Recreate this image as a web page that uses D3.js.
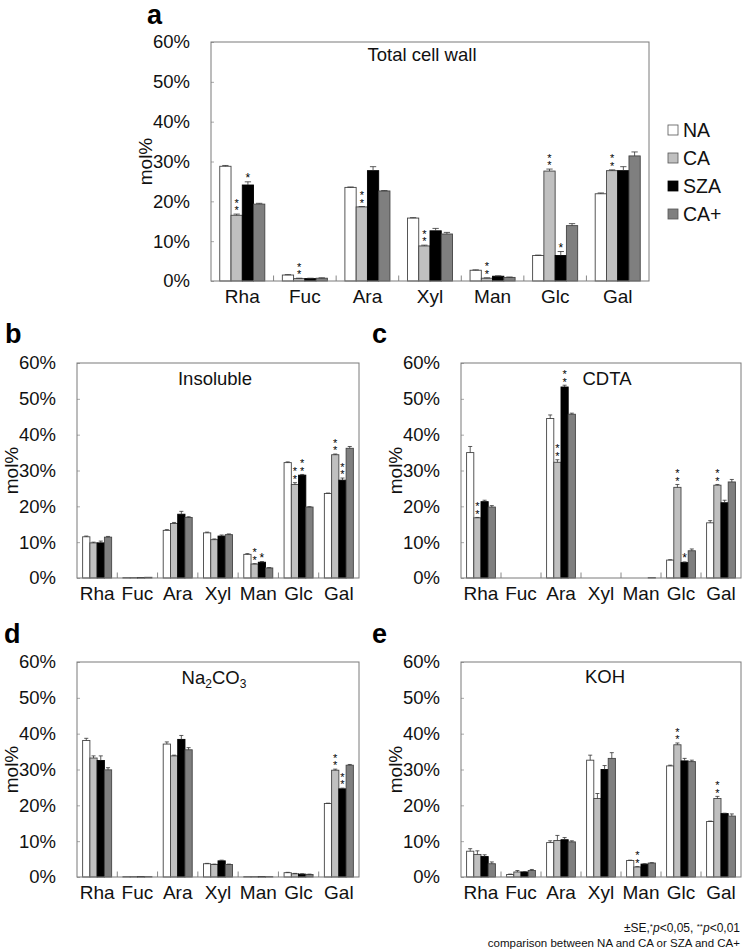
<!DOCTYPE html>
<html><head><meta charset="utf-8">
<script src="https://cdn.jsdelivr.net/npm/d3@7"></script>
<style>body{margin:0;background:#fff}svg{display:block;font-family:"Liberation Sans",Arial,sans-serif}
.vstar{writing-mode:vertical-rl;text-orientation:upright;}</style>
</head><body><svg id="chart" width="745" height="952"></svg>
<script>
// ---------- data ----------
const categories = ["Rha","Fuc","Ara","Xyl","Man","Glc","Gal"];
const seriesNames = ["NA","CA","SZA","CA+"];
const yTickValues = [0,10,20,30,40,50,60];
const yTickLabels = ["0%","10%","20%","30%","40%","50%","60%"];

// a: Total cell wall  (rows: NA, CA, SZA, CA+)
const totalValues = [
  [28.8, 1.5, 23.5, 15.8, 2.7, 6.4, 21.9],
  [16.5, 0.6, 18.6, 8.8, 0.7, 27.6, 27.7],
  [24.1, 0.6, 27.7, 12.6, 1.2, 6.4, 27.7],
  [19.3, 0.7, 22.6, 11.8, 0.9, 13.9, 31.4]];
const totalErrors = [
  [0.2, 0.1, 0.1, 0.1, 0.1, 0.1, 0.2],
  [0.3, 0.1, 0.1, 0.2, 0.1, 0.5, 0.2],
  [0.8, 0.1, 1.0, 0.6, 0.1, 1.0, 1.0],
  [0.2, 0.1, 0.1, 0.4, 0.1, 0.5, 1.0]];
const totalStars = [
  ["","","","","","",""],
  ["**","**","**","**","**","**","**"],
  ["*","","","","","*",""],
  ["","","","","","",""]];

// b: Insoluble
const insolValues = [
  [11.5, 0.1, 13.3, 12.6, 6.6, 32.2, 23.6],
  [9.8, 0.1, 15.2, 10.7, 3.9, 26.1, 34.4],
  [9.8, 0.1, 17.8, 11.7, 4.4, 28.7, 27.3],
  [11.4, 0.2, 16.9, 12.1, 2.8, 19.8, 36.2]];
const insolErrors = [
  [0.2, 0, 0.2, 0.2, 0.2, 0.2, 0.1],
  [0.2, 0, 0.3, 0.2, 0.1, 0.5, 0.2],
  [0.5, 0, 0.8, 0.3, 0.2, 0.2, 0.6],
  [0.2, 0, 0.2, 0.2, 0.1, 0.1, 0.5]];
const insolStars = [
  ["","","","","","",""],
  ["","","","","**","**","**"],
  ["","","","","*","**","**"],
  ["","","","","","",""]];

// c: CDTA
const cdtaValues = [
  [35.0, 0, 44.5, 0, 0, 5.0, 15.4],
  [16.8, 0, 32.3, 0, 0, 25.3, 25.9],
  [21.3, 0, 53.3, 0, 0, 4.3, 21.0],
  [19.8, 0, 45.7, 0, 0.1, 7.6, 26.8]];
const cdtaErrors = [
  [1.7, 0, 1.0, 0, 0, 0.1, 0.6],
  [0.1, 0, 0.7, 0, 0, 0.8, 0.2],
  [0.4, 0, 0.5, 0, 0, 0.2, 0.7],
  [0.4, 0, 0.3, 0, 0, 0.5, 0.7]];
const cdtaStars = [
  ["","","","","","",""],
  ["**","","**","","","**","**"],
  ["","","**","","","*",""],
  ["","","","","","",""]];

// d: Na2CO3
const naValues = [
  [38.1, 0.1, 37.1, 3.7, 0.1, 1.2, 20.5],
  [33.2, 0.1, 33.8, 3.5, 0.1, 0.9, 29.8],
  [32.5, 0.1, 38.4, 4.5, 0.1, 0.8, 24.6],
  [29.9, 0.1, 35.5, 3.5, 0.1, 0.7, 31.2]];
const naErrors = [
  [0.6, 0, 0.6, 0.1, 0, 0.1, 0.1],
  [0.6, 0, 0.2, 0.1, 0, 0.1, 0.3],
  [1.3, 0, 1.1, 0.2, 0, 0.1, 0.2],
  [0.6, 0, 0.6, 0.1, 0, 0.1, 0.2]];
const naStars = [
  ["","","","","","",""],
  ["","","","","","","**"],
  ["","","","","","","**"],
  ["","","","","","",""]];

// e: KOH
const kohValues = [
  [7.2, 0.7, 9.6, 32.6, 4.6, 31.0, 15.5],
  [6.3, 1.4, 10.2, 21.9, 2.8, 36.9, 21.9],
  [5.7, 1.4, 10.4, 30.0, 3.6, 32.4, 17.7],
  [3.7, 1.8, 9.8, 33.1, 3.9, 32.2, 17.0]];
const kohErrors = [
  [0.7, 0.1, 0.5, 1.4, 0.1, 0.2, 0.1],
  [1.0, 0.4, 1.4, 1.4, 0.1, 0.5, 0.6],
  [0.5, 0.1, 0.6, 1.1, 0.1, 0.7, 0.1],
  [0.5, 0.3, 0.3, 1.6, 0.1, 0.4, 0.6]];
const kohStars = [
  ["","","","","","",""],
  ["","","","","**","**","**"],
  ["","","","","","",""],
  ["","","","","","",""]];

// ---------- styles ----------
const seriesColors = ["#ffffff","#c0c0c0","#000000","#7f7f7f"];
const boxColor = "#7a7a7a";
const FONT = '"Liberation Sans",Arial,sans-serif';

const svg = d3.select("#chart");

function drawPanel(p) {
  const g = svg.append("g");
  const x = d3.scaleBand().domain(categories).range([p.x0, p.x1]);
  const bw = x.bandwidth();
  const xs = d3.scaleBand().domain(seriesNames).range([bw*0.14, bw*0.86]);
  const y = d3.scaleLinear().domain([0, 60]).range([p.y1, p.y0]);

  // y axis labels + inward ticks
  const yAxis = d3.axisLeft(y).tickValues(yTickValues)
    .tickFormat((d,i) => yTickLabels[i]).tickSize(-3).tickPadding(21);
  const ya = g.append("g").attr("transform", `translate(${p.x0},0)`).call(yAxis);
  ya.select(".domain").remove();
  ya.selectAll("line").attr("stroke", "#aaa");
  ya.selectAll("text").attr("font-size", 18.5).attr("fill", "#111").attr("font-family", FONT);

  // category labels
  const xAxis = d3.axisBottom(x).tickSize(0).tickPadding(9);
  const xa = g.append("g").attr("transform", `translate(0,${p.y1})`).call(xAxis);
  xa.select(".domain").remove();
  xa.selectAll("text").attr("font-size", 19).attr("fill", "#111").attr("font-family", FONT);

  // separators between categories
  g.selectAll(".sep").data(categories.slice(1)).enter().append("line")
    .attr("x1", d => x(d)).attr("x2", d => x(d))
    .attr("y1", p.y1).attr("y2", p.y1 - 5.5)
    .attr("stroke", "#888").attr("stroke-width", 1);

  // bars
  seriesNames.forEach((s, si) => {
    const sg = g.append("g");
    categories.forEach((c, ci) => {
      const v = p.values[si][ci];
      const e = p.errors[si][ci];
      const bx = x(c) + xs(s);
      const w = xs.bandwidth();
      if (v > 0) {
        sg.append("rect").attr("x", bx).attr("y", y(v))
          .attr("width", w).attr("height", y(0) - y(v))
          .attr("fill", seriesColors[si]).attr("stroke", si === 2 ? "#000" : "#444")
          .attr("stroke-width", 0.9);
      }
      if (v > 0 && e > 0) {
        const cx = bx + w/2;
        sg.append("line").attr("x1", cx).attr("x2", cx).attr("y1", y(v)).attr("y2", y(v+e))
          .attr("stroke", "#333").attr("stroke-width", 0.8);
        sg.append("line").attr("x1", cx - w*0.28).attr("x2", cx + w*0.28)
          .attr("y1", y(v+e)).attr("y2", y(v+e))
          .attr("stroke", "#333").attr("stroke-width", 0.8);
      }
      const st = p.stars[si][ci];
      if (st) {
        const top = y(v + e);
        if (st.length > 1) {
          // stacked asterisks in one vertical text run
          sg.append("text").attr("class", "vstar")
            .attr("x", bx + w/2).attr("y", top - 3 - st.length*6.7/2)
            .attr("text-anchor", "middle").attr("font-size", 11)
            .attr("letter-spacing", -4.3)
            .attr("font-family", FONT).attr("fill", "#000").text(st);
        } else {
          sg.append("text").attr("x", bx + w/2).attr("y", top)
            .attr("text-anchor", "middle").attr("font-size", 12)
            .attr("font-family", FONT).attr("fill", "#000").text("*");
        }
      }
    });
  });

  // frame
  g.append("rect").attr("x", p.x0).attr("y", p.y0)
    .attr("width", p.x1 - p.x0).attr("height", p.y1 - p.y0)
    .attr("fill", "none").attr("stroke", boxColor).attr("stroke-width", 1);

  // title
  const t = g.append("text").attr("x", p.titleX).attr("y", p.y0 + p.titleDy)
    .attr("text-anchor", "middle").attr("font-size", 18.5).attr("fill", "#111");
  p.title.forEach(part => {
    if (part.sub) {
      t.append("tspan").attr("font-size", 12).attr("dy", 4).text(part.text);
    } else {
      const ts = t.append("tspan").text(part.text);
      if (part.after) ts.attr("dy", -4);
    }
  });

  // y label
  g.append("text")
    .attr("transform", `translate(${p.x0 - 66},${(p.y0 + p.y1)/2}) rotate(-90)`)
    .attr("text-anchor", "middle").attr("dy", "0.35em")
    .attr("font-size", 19).attr("fill", "#111").text("mol%");

  // panel letter
  g.append("text").attr("x", p.letterX).attr("y", p.letterY)
    .attr("font-size", 27).attr("font-weight", "bold").attr("fill", "#000").text(p.letter);
}

drawPanel({letter:"a", letterX:147, letterY:24, x0:211, x1:649, y0:42, y1:281, titleX:422, titleDy:19,
  title:[{text:"Total cell wall"}], values:totalValues, errors:totalErrors, stars:totalStars});
drawPanel({letter:"b", letterX:5, letterY:343, x0:77, x1:359, y0:363, y1:578, titleX:215, titleDy:22,
  title:[{text:"Insoluble"}], values:insolValues, errors:insolErrors, stars:insolStars});
drawPanel({letter:"c", letterX:372, letterY:343, x0:461, x1:741, y0:363, y1:578, titleX:607, titleDy:22,
  title:[{text:"CDTA"}], values:cdtaValues, errors:cdtaErrors, stars:cdtaStars});
drawPanel({letter:"d", letterX:4, letterY:643, x0:77, x1:359, y0:662, y1:877, titleX:214, titleDy:22,
  title:[{text:"Na"},{text:"2",sub:true},{text:"CO",after:true},{text:"3",sub:true}],
  values:naValues, errors:naErrors, stars:naStars});
drawPanel({letter:"e", letterX:372, letterY:643, x0:461, x1:741, y0:662, y1:877, titleX:605, titleDy:21,
  title:[{text:"KOH"}], values:kohValues, errors:kohErrors, stars:kohStars});

// legend
const legend = svg.append("g");
const legendY = d3.scalePoint().domain(seriesNames).range([130, 214]);
seriesNames.forEach((s, i) => {
  legend.append("rect").attr("x", 668).attr("y", legendY(s) - 5).attr("width", 10).attr("height", 10)
    .attr("fill", seriesColors[i]).attr("stroke", i === 2 ? "#000" : "#555").attr("stroke-width", 0.8);
  legend.append("text").attr("x", 683).attr("y", legendY(s) + 7)
    .attr("font-size", 19.5).attr("fill", "#111").text(s);
});

// footnote
const fn1 = svg.append("text").attr("x", 740).attr("y", 932).attr("text-anchor", "end")
  .attr("font-size", 12).attr("fill", "#111");
fn1.append("tspan").text("±SE,");
fn1.append("tspan").attr("font-size", 8).attr("dy", -3).text("*");
fn1.append("tspan").attr("font-style", "italic").attr("dy", 3).text("p");
fn1.append("tspan").text("<0,05,  ");
fn1.append("tspan").attr("font-size", 8).attr("dy", -3).text("**");
fn1.append("tspan").attr("font-style", "italic").attr("dy", 3).text("p");
fn1.append("tspan").text("<0,01");
svg.append("text").attr("x", 740).attr("y", 947).attr("text-anchor", "end")
  .attr("font-size", 11.5).attr("fill", "#111").text("comparison between NA and CA or SZA and CA+");
</script></body></html>
